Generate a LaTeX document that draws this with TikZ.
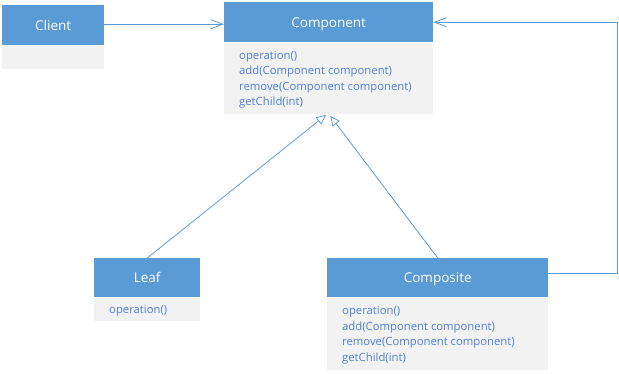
\documentclass[tikz,border=0pt]{standalone}
\usepackage{fontspec}
\setmainfont{Open Sans}
\usetikzlibrary{arrows.meta,calc}
\definecolor{hdr}{HTML}{5B9BD5}
\definecolor{bdy}{HTML}{F2F2F2}
\definecolor{mtxt}{HTML}{4F81D6}
\begin{document}
\begin{tikzpicture}[x=1pt,y=-1pt,
  head/.style={fill=hdr, text=white, anchor=north west, inner sep=0pt,
    text height=12pt, text depth=2pt,
    font=\fontsize{13.5}{16}\selectfont},
  body/.style={fill=bdy, anchor=north west, inner sep=0pt},
  members/.style={text=mtxt, anchor=west, inner sep=0pt, align=left,
    font=\fontsize{11.3}{15.5}\selectfont},
  link/.style={draw=hdr, line width=0.8pt},
  assoc/.style={link, -{Straight Barb[length=12pt,width=9pt,line width=0.8pt]}},
  inherit/.style={link, -{Triangle[open,fill=white,length=10pt,width=9pt,line width=0.8pt]}}]
\useasboundingbox (0,0) rectangle (619,373);

% Client
\node[head, minimum width=102pt, minimum height=40pt] (client) at (2,5) {Client};
\node[body, minimum width=102pt, minimum height=23pt] (clientb) at (client.south west) {};

% Component
\node[head, minimum width=209pt, minimum height=40pt] (component) at (224,2) {Component};
\node[body, minimum width=209pt, minimum height=71pt] (componentb) at (component.south west) {};
\node[members] (componentm) at ($(componentb.west)+(15,1.5)$)
  {operation()\\add(Component component)\\remove(Component component)\\getChild(int)};

% Leaf
\node[head, minimum width=106pt, minimum height=39pt] (leaf) at (94,258) {Leaf};
\node[body, minimum width=106pt, minimum height=23pt] (leafb) at (leaf.south west) {};
\node[members] (leafm) at ($(leafb.west)+(15,2)$) {operation()};

% Composite
\node[head, minimum width=221pt, minimum height=39pt] (composite) at (327,258) {Composite};
\node[body, minimum width=221pt, minimum height=72pt] (compositeb) at (composite.south west) {};
\node[members] (compositem) at ($(compositeb.west)+(15,1.5)$)
  {operation()\\add(Component component)\\remove(Component component)\\getChild(int)};

% connectors
\coordinate (clientOut) at ($(client.east)+(0,-1)$);
\coordinate (tipL) at ($(componentb.south)+(-2.5,1)$);
\coordinate (tipR) at ($(componentb.south)+(1.5,2)$);
\coordinate (cornerB) at ($(composite.east)+(69,-4.5)$);
\coordinate (startC) at ($(composite.east)+(0,-4.5)$);

\draw[assoc] (clientOut) -- (clientOut -| component.west);
\draw[inherit] (leaf.north) -- (tipL);
\draw[inherit] (composite.north) -- (tipR);
\draw[assoc] (startC) -- (cornerB) |- (component.east);
\end{tikzpicture}
\end{document}
